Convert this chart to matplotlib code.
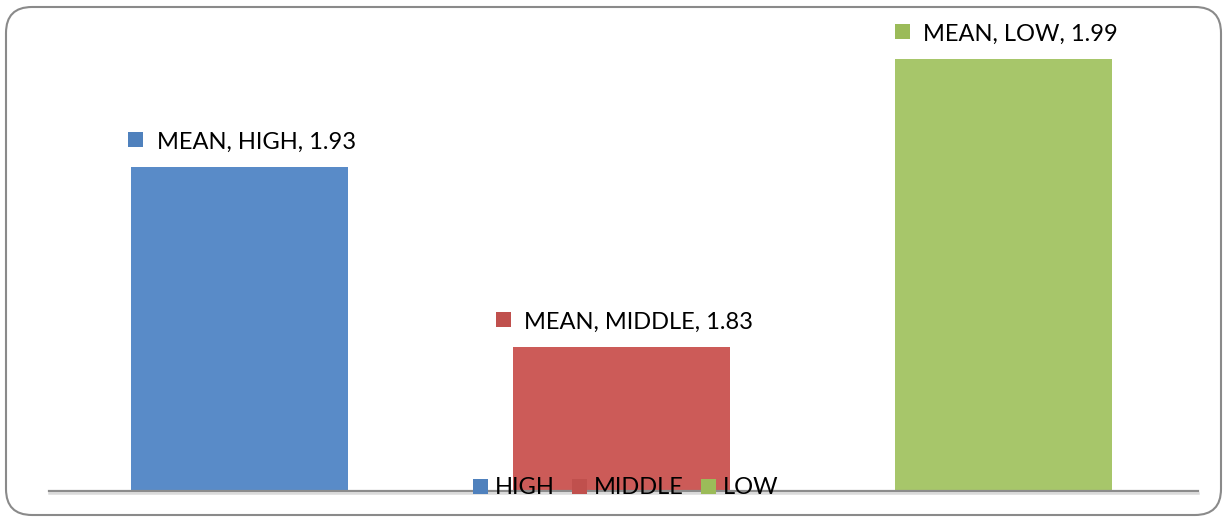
import matplotlib
matplotlib.use("Agg")
import matplotlib.pyplot as plt
from matplotlib.patches import FancyBboxPatch
from matplotlib.lines import Line2D
from matplotlib.transforms import offset_copy

categories = ["HIGH", "MIDDLE", "LOW"]
values = [1.93, 1.83, 1.99]
series_name = "MEAN"
bar_colors = ["#598BC8", "#CC5B58", "#A7C66A"]
legend_colors = ["#4F81BD", "#C0504D", "#9BBB59"]

W, H, DPI = 1227, 521, 100
plt.rcParams['font.family'] = ['Lato', 'DejaVu Sans']
FS = 17

fig = plt.figure(figsize=(W / DPI, H / DPI), dpi=DPI)

# background frame axes in pixel coordinates
bg = fig.add_axes([0, 0, 1, 1], zorder=0)
bg.set_xlim(0, W)
bg.set_ylim(H, 0)
bg.axis('off')
bg.add_patch(FancyBboxPatch((6 + 22, 7 + 22), W - 12 - 44, H - 13 - 44,
                            boxstyle="round,pad=22,rounding_size=26",
                            fc='white', ec='#8A8A8A', lw=1.5))

ax_l, ax_r, ax_b, ax_t = 49, 1198, 491, 41
ax = fig.add_axes([ax_l / W, (H - ax_b) / H, (ax_r - ax_l) / W, (ax_b - ax_t) / H], zorder=1)
ax.patch.set_alpha(0)
x = list(range(len(categories)))
ax.bar(x, values, width=0.568, color=bar_colors, zorder=2)
ax.set_xlim(-0.4987, 2.509)
ax.set_ylim(1.75, 2.0)
for s in ['top', 'right', 'left']:
    ax.spines[s].set_visible(False)
ax.spines['bottom'].set_color('#8C8C8C')
ax.spines['bottom'].set_linewidth(1.6)
ax.set_xticks([])
ax.set_yticks([])

# axis shadow
shadow_tr = offset_copy(ax.transAxes, fig=fig, x=0, y=-2.2, units='dots')
ax.plot([0, 1], [0, 0], color='#DADADA', lw=1.8, transform=shadow_tr, zorder=1, clip_on=False)

# data labels
texts = []
for i, (c, v) in enumerate(zip(categories, values)):
    t = ax.annotate(f"{series_name}, {c}, {v:.2f}", xy=(i, v),
                    xytext=(17 * 72 / DPI, 18 * 72 / DPI), textcoords='offset points',
                    ha='center', va='baseline', fontsize=FS, color='black', zorder=5)
    texts.append(t)

fig.canvas.draw()
renderer = fig.canvas.get_renderer()
for i, (t, v) in enumerate(zip(texts, values)):
    bb = t.get_window_extent(renderer)
    cx, cy = ax.transData.transform((i, v))
    mx = bb.x0 - 21.5
    my = cy + 28.5
    mxd, myd = ax.transData.inverted().transform((mx, my))
    ax.plot([mxd], [myd], marker='s', markersize=15 * 72 / DPI, color=legend_colors[i],
            markeredgewidth=0, clip_on=False, zorder=5)

handles = [Line2D([], [], marker='s', linestyle='none', markersize=15 * 72 / DPI,
                  markerfacecolor=col, markeredgewidth=0) for col in legend_colors]
leg = ax.legend(handles, categories, loc='center', bbox_to_anchor=(0.5015, 3 / 450),
                ncol=3, frameon=False, fontsize=FS, handlelength=0.64,
                handletextpad=0.32, columnspacing=0.7, borderpad=0)
leg.set_zorder(6)

fig.savefig("out.png", dpi=DPI)
